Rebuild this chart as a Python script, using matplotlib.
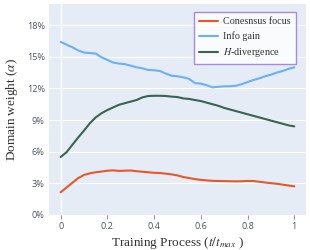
import matplotlib

matplotlib.use("Agg")
import matplotlib.pyplot as plt
from matplotlib.ticker import FuncFormatter

# training progress t/t_max, sampled every 0.025
progress = [i * 0.025 for i in range(41)]

consensus_focus = [
    2.15, 2.6, 3.05, 3.5, 3.8, 3.95, 4.05, 4.12, 4.2, 4.23,
    4.18, 4.2, 4.22, 4.15, 4.1, 4.05, 4.0, 3.98, 3.92, 3.85,
    3.75, 3.6, 3.5, 3.4, 3.33, 3.28, 3.24, 3.22, 3.21, 3.2,
    3.19, 3.2, 3.23, 3.22, 3.15, 3.08, 3.02, 2.96, 2.88, 2.8,
    2.72,
]
info_gain = [
    16.4, 16.15, 15.9, 15.6, 15.4, 15.35, 15.3, 14.95, 14.7, 14.45,
    14.35, 14.3, 14.15, 14.0, 13.9, 13.75, 13.72, 13.65, 13.4, 13.2,
    13.15, 13.05, 12.9, 12.5, 12.45, 12.3, 12.1, 12.15, 12.2, 12.2,
    12.25, 12.4, 12.6, 12.8, 12.95, 13.15, 13.3, 13.5, 13.65, 13.85,
    14.0,
]
h_divergence = [
    5.5, 5.95, 6.65, 7.35, 8.0, 8.7, 9.25, 9.65, 9.95, 10.2,
    10.45, 10.6, 10.75, 10.9, 11.15, 11.28, 11.3, 11.3, 11.28, 11.22,
    11.18, 11.05, 11.0, 10.9, 10.8, 10.65, 10.5, 10.35, 10.15, 10.0,
    9.85, 9.7, 9.55, 9.4, 9.25, 9.1, 8.95, 8.8, 8.65, 8.5,
    8.4,
]

series_labels = ["Conesnsus focus", "Info gain", "$H$-divergence"]
series_colors = ["#E8572A", "#6AB0FA", "#3A6450"]

x_ticks = [0, 0.2, 0.4, 0.6, 0.8, 1]
y_ticks = [0, 3, 6, 9, 12, 15, 18]

plt.rcParams["mathtext.fontset"] = "stix"

fig = plt.figure(figsize=(3.1, 2.5), dpi=100)
ax = fig.add_axes([0.158, 0.14, 0.829, 0.844])
ax.set_facecolor("#E5ECF6")

for vals, lab, col in zip([consensus_focus, info_gain, h_divergence], series_labels, series_colors):
    ax.plot(progress, vals, color=col, linewidth=1.5, label=lab, solid_capstyle="round")

ax.set_xlim(-0.05, 1.05)
ax.set_ylim(0, 20)
ax.set_xticks(x_ticks)
ax.set_xticklabels(["0", "0.2", "0.4", "0.6", "0.8", "1"])
ax.set_yticks(y_ticks)
ax.yaxis.set_major_formatter(FuncFormatter(lambda v, p: f"{v:.0f}%"))

ax.grid(axis="y", color="white", linewidth=0.8)
ax.axvline(0, color="white", linewidth=1.0, zorder=0.5)
ax.set_axisbelow(True)
for s in ax.spines.values():
    s.set_visible(False)

ax.tick_params(axis="y", length=0, pad=3, labelsize=6.6, labelcolor="#4d5663")
ax.tick_params(axis="x", length=3, width=0.7, color="#8a8f99", pad=2,
               labelsize=6.6, labelcolor="#4d5663")
for t in ax.get_xticklabels() + ax.get_yticklabels():
    t.set_fontfamily("Open Sans")

ax.set_xlabel("Training Process ($t/t_{max}$ )", fontfamily="Liberation Serif",
              fontsize=9.5, color="#333333", labelpad=3)
ax.set_ylabel(r"Domain weight ($\alpha$)", fontfamily="Liberation Serif",
              fontsize=9.5, color="#333333", labelpad=5)

leg = ax.legend(loc="upper right", bbox_to_anchor=(0.98, 0.985), frameon=True,
                fancybox=False, prop={"family": "Liberation Serif", "size": 7.3},
                handlelength=1.9, handletextpad=0.5, labelspacing=0.5,
                borderpad=0.5)
leg.get_frame().set_edgecolor("#9370DB")
leg.get_frame().set_linewidth(1.0)
for t in leg.get_texts():
    t.set_color("#333333")

fig.savefig("out.png", dpi=100)
